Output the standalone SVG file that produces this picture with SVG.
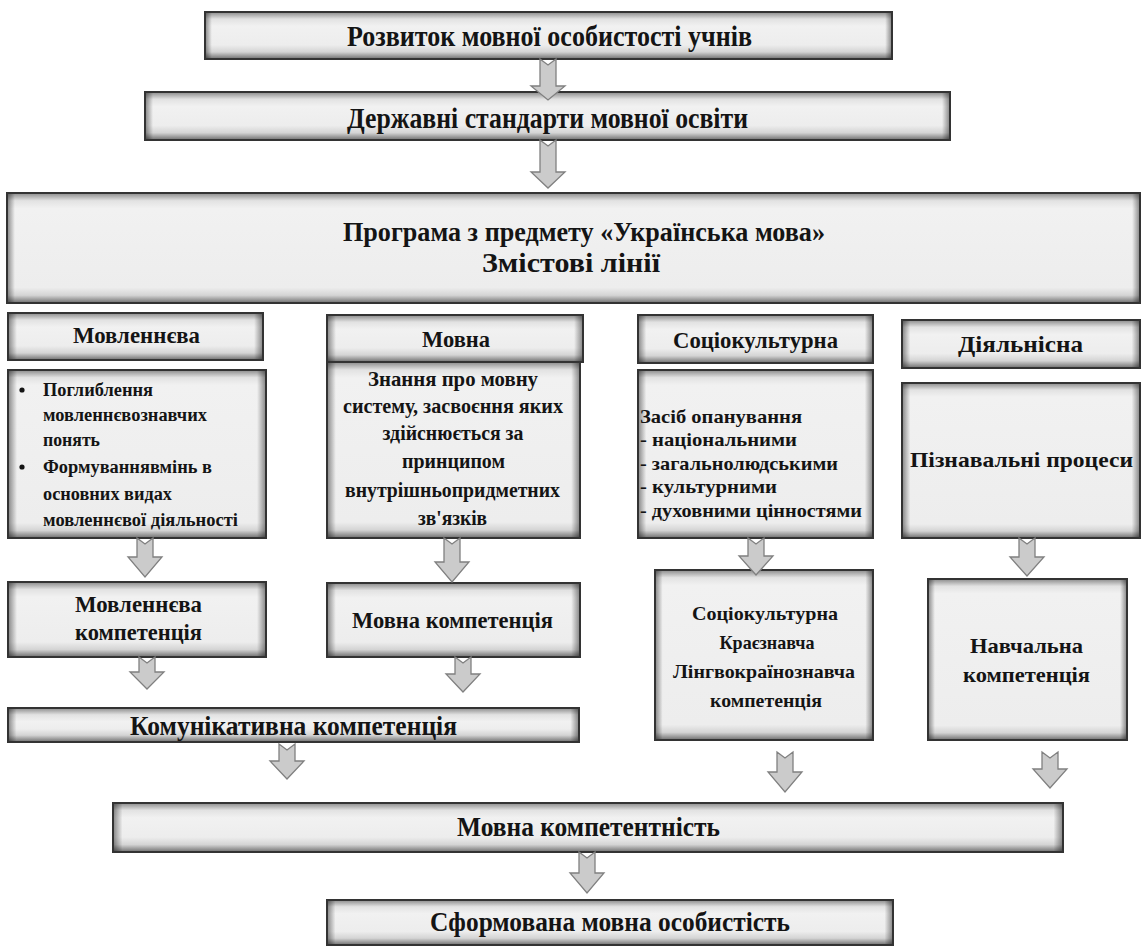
<svg xmlns="http://www.w3.org/2000/svg" width="1145" height="947" viewBox="0 0 1145 947">
<style>
.bd{fill:none;stroke:#333333;stroke-width:2}
.t{font-family:"Liberation Serif","Times New Roman",serif;font-weight:bold;fill:#141414}
.c{text-anchor:middle}
.arr{fill:#cbcbcb;stroke:#808080;stroke-width:1.3;stroke-linejoin:miter}
.vThin{fill:url(#vThin)} .vShort{fill:url(#vShort)} .vMid{fill:url(#vMid)} .vBig{fill:url(#vBig)} .vTall{fill:url(#vTall)}
.hN{fill:url(#hN)} .hM{fill:url(#hM)} .hW{fill:url(#hW)} .hX{fill:url(#hX)}
</style>
<defs>
<linearGradient id="vThin" x1="0" y1="0" x2="0" y2="1">
<stop offset="0" stop-color="#8a8a8a"/><stop offset="0.2" stop-color="#e2e2e2"/><stop offset="0.4" stop-color="#f1f1f1"/><stop offset="0.62" stop-color="#ededed"/><stop offset="0.8" stop-color="#d4d4d4"/><stop offset="1" stop-color="#6e6e6e"/>
</linearGradient>
<linearGradient id="vShort" x1="0" y1="0" x2="0" y2="1">
<stop offset="0" stop-color="#8a8a8a"/><stop offset="0.15" stop-color="#e2e2e2"/><stop offset="0.3" stop-color="#f1f1f1"/><stop offset="0.7" stop-color="#ededed"/><stop offset="0.85" stop-color="#d4d4d4"/><stop offset="1" stop-color="#6e6e6e"/>
</linearGradient>
<linearGradient id="vMid" x1="0" y1="0" x2="0" y2="1">
<stop offset="0" stop-color="#8a8a8a"/><stop offset="0.1" stop-color="#e2e2e2"/><stop offset="0.2" stop-color="#f1f1f1"/><stop offset="0.8" stop-color="#ededed"/><stop offset="0.9" stop-color="#d4d4d4"/><stop offset="1" stop-color="#6e6e6e"/>
</linearGradient>
<linearGradient id="vBig" x1="0" y1="0" x2="0" y2="1">
<stop offset="0" stop-color="#8a8a8a"/><stop offset="0.07" stop-color="#e2e2e2"/><stop offset="0.14" stop-color="#f1f1f1"/><stop offset="0.86" stop-color="#ededed"/><stop offset="0.93" stop-color="#d4d4d4"/><stop offset="1" stop-color="#6e6e6e"/>
</linearGradient>
<linearGradient id="vTall" x1="0" y1="0" x2="0" y2="1">
<stop offset="0" stop-color="#8a8a8a"/><stop offset="0.045" stop-color="#e2e2e2"/><stop offset="0.09" stop-color="#f1f1f1"/><stop offset="0.91" stop-color="#ededed"/><stop offset="0.955" stop-color="#d4d4d4"/><stop offset="1" stop-color="#6e6e6e"/>
</linearGradient>
<linearGradient id="hN" x1="0" y1="0" x2="1" y2="0">
<stop offset="0" stop-color="#000" stop-opacity="0.45"/><stop offset="0.035" stop-color="#000" stop-opacity="0"/><stop offset="0.965" stop-color="#000" stop-opacity="0"/><stop offset="1" stop-color="#000" stop-opacity="0.45"/>
</linearGradient>
<linearGradient id="hM" x1="0" y1="0" x2="1" y2="0">
<stop offset="0" stop-color="#000" stop-opacity="0.45"/><stop offset="0.015" stop-color="#000" stop-opacity="0"/><stop offset="0.985" stop-color="#000" stop-opacity="0"/><stop offset="1" stop-color="#000" stop-opacity="0.45"/>
</linearGradient>
<linearGradient id="hW" x1="0" y1="0" x2="1" y2="0">
<stop offset="0" stop-color="#000" stop-opacity="0.45"/><stop offset="0.01" stop-color="#000" stop-opacity="0"/><stop offset="0.99" stop-color="#000" stop-opacity="0"/><stop offset="1" stop-color="#000" stop-opacity="0.45"/>
</linearGradient>
<linearGradient id="hX" x1="0" y1="0" x2="1" y2="0">
<stop offset="0" stop-color="#000" stop-opacity="0.45"/><stop offset="0.007" stop-color="#000" stop-opacity="0"/><stop offset="0.993" stop-color="#000" stop-opacity="0"/><stop offset="1" stop-color="#000" stop-opacity="0.45"/>
</linearGradient>
</defs>
<rect width="1145" height="947" fill="#ffffff"/>

<g id="n-rozvytok">
<rect class="vShort" x="205" y="12" width="687" height="47"/><rect class="hW" x="205" y="12" width="687" height="47"/><rect class="bd" x="205" y="12" width="687" height="47"/>
<text class="t c" x="549.5" y="46" font-size="29" textLength="405" lengthAdjust="spacingAndGlyphs">Розвиток мовної особистості учнів</text>
</g>
<g id="n-standarty">
<rect class="vShort" x="145" y="92" width="805" height="48"/><rect class="hW" x="145" y="92" width="805" height="48"/><rect class="bd" x="145" y="92" width="805" height="48"/>
<text class="t c" x="547.5" y="128" font-size="29" textLength="401" lengthAdjust="spacingAndGlyphs">Державні стандарти мовної освіти</text>
</g>
<g id="n-programa">
<rect class="vBig" x="7" y="193" width="1133" height="110"/><rect class="hX" x="7" y="193" width="1133" height="110"/><rect class="bd" x="7" y="193" width="1133" height="110"/>
<text class="t c" x="584" y="241" font-size="28" textLength="482" lengthAdjust="spacingAndGlyphs">Програма з предмету «Українська мова»</text>
<text class="t c" x="571" y="272" font-size="28" textLength="178" lengthAdjust="spacingAndGlyphs">Змістові лінії</text>
</g>

<g id="n-h-movlenn">
<rect class="vShort" x="8" y="313" width="255" height="47"/><rect class="hN" x="8" y="313" width="255" height="47"/><rect class="bd" x="8" y="313" width="255" height="47"/>
<text class="t c" x="136.5" y="343" font-size="23" textLength="127" lengthAdjust="spacingAndGlyphs">Мовленнєва</text>
</g>
<g id="n-h-movna">
<rect class="vShort" x="327" y="315" width="256" height="47"/><rect class="hN" x="327" y="315" width="256" height="47"/><rect class="bd" x="327" y="315" width="256" height="47"/>
<text class="t c" x="456" y="347" font-size="23" textLength="68" lengthAdjust="spacingAndGlyphs">Мовна</text>
</g>
<g id="n-h-sotsio">
<rect class="vShort" x="638" y="315" width="235" height="48"/><rect class="hN" x="638" y="315" width="235" height="48"/><rect class="bd" x="638" y="315" width="235" height="48"/>
<text class="t c" x="755.5" y="348" font-size="23" textLength="165" lengthAdjust="spacingAndGlyphs">Соціокультурна</text>
</g>
<g id="n-h-diyal">
<rect class="vShort" x="902" y="320" width="238" height="48"/><rect class="hN" x="902" y="320" width="238" height="48"/><rect class="bd" x="902" y="320" width="238" height="48"/>
<text class="t c" x="1020.5" y="352" font-size="23" textLength="125" lengthAdjust="spacingAndGlyphs">Діяльнісна</text>
</g>

<g id="n-c-movlenn">
<rect class="vTall" x="8" y="370" width="258" height="168"/><rect class="hN" x="8" y="370" width="258" height="168"/><rect class="bd" x="8" y="370" width="258" height="168"/>
<circle cx="22" cy="390" r="2.6" fill="#141414"/>
<circle cx="22" cy="467" r="2.6" fill="#141414"/>
<text class="t" x="43" y="396" font-size="18" textLength="110" lengthAdjust="spacingAndGlyphs">Поглиблення</text>
<text class="t" x="43" y="421" font-size="18" textLength="164" lengthAdjust="spacingAndGlyphs">мовленнєвознавчих</text>
<text class="t" x="43" y="446" font-size="18" textLength="57" lengthAdjust="spacingAndGlyphs">понять</text>
<text class="t" x="43" y="473" font-size="18" textLength="169" lengthAdjust="spacingAndGlyphs">Формуваннявмінь в</text>
<text class="t" x="43" y="500" font-size="18" textLength="129" lengthAdjust="spacingAndGlyphs">основних видах</text>
<text class="t" x="43" y="526" font-size="18" textLength="195" lengthAdjust="spacingAndGlyphs">мовленнєвої діяльності</text>
</g>
<g id="n-c-movna">
<rect class="vTall" x="327" y="362" width="253" height="176"/><rect class="hN" x="327" y="362" width="253" height="176"/><rect class="bd" x="327" y="362" width="253" height="176"/>
<text class="t c" x="453" y="386" font-size="20" textLength="170" lengthAdjust="spacingAndGlyphs">Знання про мовну</text>
<text class="t c" x="453" y="413" font-size="20" textLength="220" lengthAdjust="spacingAndGlyphs">систему, засвоєння яких</text>
<text class="t c" x="453" y="440" font-size="20" textLength="141" lengthAdjust="spacingAndGlyphs">здійснюється за</text>
<text class="t c" x="453.5" y="468" font-size="20" textLength="103" lengthAdjust="spacingAndGlyphs">принципом</text>
<text class="t c" x="452.5" y="497" font-size="20" textLength="215" lengthAdjust="spacingAndGlyphs">внутрішньопридметних</text>
<text class="t c" x="452.5" y="525" font-size="20" textLength="69" lengthAdjust="spacingAndGlyphs">зв'язків</text>
</g>
<g id="n-c-sotsio">
<rect class="vTall" x="638" y="370" width="235" height="168"/><rect class="hN" x="638" y="370" width="235" height="168"/><rect class="bd" x="638" y="370" width="235" height="168"/>
<text class="t" x="640" y="423" font-size="19" textLength="162" lengthAdjust="spacingAndGlyphs">Засіб опанування</text>
<text class="t" x="640" y="446" font-size="19" textLength="157" lengthAdjust="spacingAndGlyphs">- національними</text>
<text class="t" x="640" y="470" font-size="19" textLength="198" lengthAdjust="spacingAndGlyphs">- загальнолюдськими</text>
<text class="t" x="640" y="493" font-size="19" textLength="137" lengthAdjust="spacingAndGlyphs">- культурними</text>
<text class="t" x="640" y="517" font-size="19" textLength="222" lengthAdjust="spacingAndGlyphs">- духовними цінностями</text>
</g>
<g id="n-c-diyal">
<rect class="vTall" x="902" y="383" width="238" height="155"/><rect class="hN" x="902" y="383" width="238" height="155"/><rect class="bd" x="902" y="383" width="238" height="155"/>
<text class="t c" x="1021.5" y="467" font-size="21" textLength="223" lengthAdjust="spacingAndGlyphs">Пізнавальні процеси</text>
</g>

<g id="n-k-movlenn">
<rect class="vMid" x="8" y="582" width="258" height="75"/><rect class="hN" x="8" y="582" width="258" height="75"/><rect class="bd" x="8" y="582" width="258" height="75"/>
<text class="t c" x="138.5" y="612" font-size="23" textLength="127" lengthAdjust="spacingAndGlyphs">Мовленнєва</text>
<text class="t c" x="138.5" y="640" font-size="23" textLength="127" lengthAdjust="spacingAndGlyphs">компетенція</text>
</g>
<g id="n-k-movna">
<rect class="vMid" x="327" y="583" width="253" height="74"/><rect class="hN" x="327" y="583" width="253" height="74"/><rect class="bd" x="327" y="583" width="253" height="74"/>
<text class="t c" x="452.5" y="628" font-size="23" textLength="201" lengthAdjust="spacingAndGlyphs">Мовна компетенція</text>
</g>
<g id="n-k-sotsio">
<rect class="vTall" x="655" y="570" width="218" height="170"/><rect class="hN" x="655" y="570" width="218" height="170"/><rect class="bd" x="655" y="570" width="218" height="170"/>
<text class="t c" x="765" y="620" font-size="19" textLength="146" lengthAdjust="spacingAndGlyphs">Соціокультурна</text>
<text class="t c" x="767" y="649" font-size="19" textLength="95" lengthAdjust="spacingAndGlyphs">Краєзнавча</text>
<text class="t c" x="764" y="678" font-size="19" textLength="182" lengthAdjust="spacingAndGlyphs">Лінгвокраїнознавча</text>
<text class="t c" x="766" y="707" font-size="19" textLength="112" lengthAdjust="spacingAndGlyphs">компетенція</text>
</g>
<g id="n-k-navch">
<rect class="vTall" x="928" y="579" width="199" height="161"/><rect class="hN" x="928" y="579" width="199" height="161"/><rect class="bd" x="928" y="579" width="199" height="161"/>
<text class="t c" x="1026.5" y="653" font-size="22" textLength="113" lengthAdjust="spacingAndGlyphs">Навчальна</text>
<text class="t c" x="1026.5" y="682" font-size="22" textLength="127" lengthAdjust="spacingAndGlyphs">компетенція</text>
</g>
<g id="n-komunik">
<rect class="vThin" x="8" y="708" width="571" height="34"/><rect class="hM" x="8" y="708" width="571" height="34"/><rect class="bd" x="8" y="708" width="571" height="34"/>
<text class="t" x="130" y="735" font-size="27" textLength="327" lengthAdjust="spacingAndGlyphs">Комунікативна компетенція</text>
</g>
<g id="n-kompetentnist">
<rect class="vShort" x="113" y="803" width="950" height="49"/><rect class="hW" x="113" y="803" width="950" height="49"/><rect class="bd" x="113" y="803" width="950" height="49"/>
<text class="t c" x="588.5" y="836" font-size="27" textLength="263" lengthAdjust="spacingAndGlyphs">Мовна компетентність</text>
</g>
<g id="n-sformovana">
<rect class="vShort" x="327" y="900" width="566" height="45"/><rect class="hM" x="327" y="900" width="566" height="45"/><rect class="bd" x="327" y="900" width="566" height="45"/>
<text class="t c" x="610" y="931" font-size="27" textLength="360" lengthAdjust="spacingAndGlyphs">Сформована мовна особистість</text>
</g>

<g id="connectors">
<polygon class="arr" points="540,59 548,65 556,59 556,86 565,86 548,100 531,86 540,86"/>
<polygon class="arr" points="540,140 548,146 556,140 556,172 565,172 548,188 531,172 540,172"/>
<polygon class="arr" points="137,538 145,544 153,538 153,557 162,557 145,577 128,557 137,557"/>
<polygon class="arr" points="139,657 147,663 155,657 155,672 164,672 147,689 130,672 139,672"/>
<polygon class="arr" points="444,538 452,544 460,538 460,562 469,562 452,582 435,562 444,562"/>
<polygon class="arr" points="455,657 463,663 471,657 471,674 480,674 463,692 446,674 455,674"/>
<polygon class="arr" points="748,538 756,544 764,538 764,556 773,556 756,575 739,556 748,556"/>
<polygon class="arr" points="1019,538 1027,544 1035,538 1035,557 1044,557 1027,576 1010,557 1019,557"/>
<polygon class="arr" points="279,744 287,750 295,744 295,761 304,761 287,779 270,761 279,761"/>
<polygon class="arr" points="777,752 785,758 793,752 793,772 802,772 785,792 768,772 777,772"/>
<polygon class="arr" points="1042,752 1050,758 1058,752 1058,769 1067,769 1050,788 1033,769 1042,769"/>
<polygon class="arr" points="579,852 587,858 595,852 595,873 604,873 587,893 570,873 579,873"/>
</g>
</svg>
